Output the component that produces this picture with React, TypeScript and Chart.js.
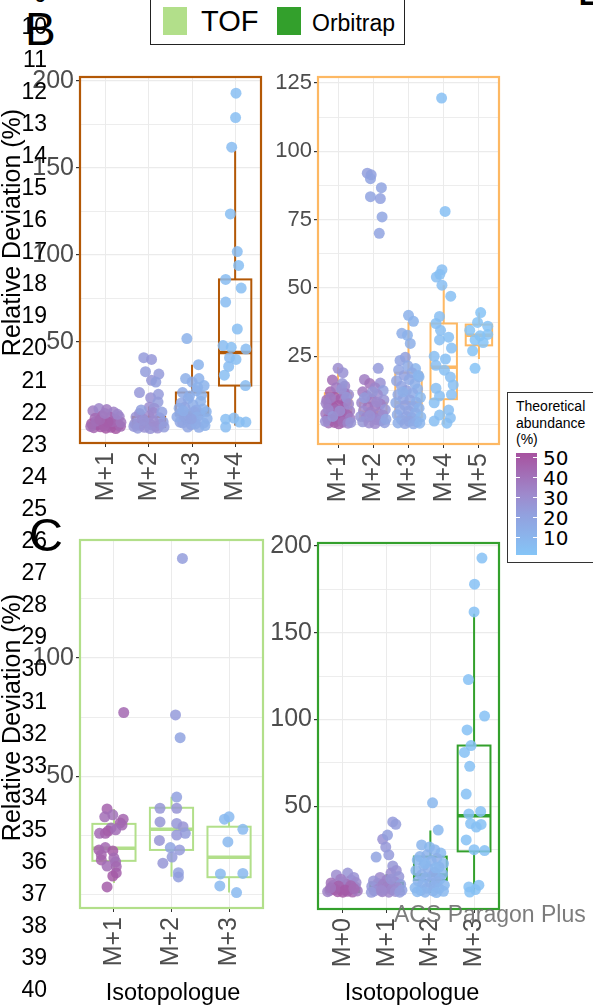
import React, { useEffect, useRef } from "react";
import { Chart, registerables } from "chart.js";

Chart.register(...registerables);

type Pt = [number, number, number]; // [jitter offset, relative deviation %, theoretical abundance %]
type Box = [number, number, number, number, number]; // [lower whisker, q1, median, q3, upper whisker]

// ---------------- Panel B (left, dark orange) ----------------
const catsB1 = ["M+1", "M+2", "M+3", "M+4"];
const boxesB1: Box[] = [
  [0.2, 0.8, 2, 3.4, 7.5],
  [0, 1.2, 3, 7, 13],
  [2, 8, 9.5, 21, 37],
  [2, 25, 44, 86, 160],
];
const ptsB1_M1: Pt[] = [
  [-0.3, 10.5, 36], [-0.16, 11.8, 33], [0.02, 11.2, 37], [0.18, 9.8, 35], [0.31, 7.2, 34],
  [-0.25, 6.2, 43], [-0.08, 7.6, 46], [0.1, 6.8, 45], [0.24, 5.2, 42], [-0.33, 3.1, 48],
  [-0.2, 2.6, 49], [-0.05, 3.6, 50], [0.07, 2.1, 50], [0.17, 3.2, 47], [0.3, 2.3, 46],
  [-0.28, 0.8, 45], [-0.12, 1.3, 49], [0, 0.5, 50], [0.12, 1, 48], [0.23, 0.3, 50],
  [0.34, 1.6, 44], [-0.22, 4.6, 41], [0.15, 4.3, 44], [-0.04, 1.8, 47], [0.05, 4.1, 48],
  [-0.35, 1.5, 42], [0.35, 3.9, 39], [-0.14, 5.5, 44], [0.27, 8.5, 33], [-0.02, 9, 36],
];
const ptsB1_M2: Pt[] = [
  [-0.12, 41, 24], [0.06, 40, 25], [-0.08, 33, 23], [0.23, 31.6, 24], [0.06, 28, 26], [0.16, 27, 22],
  [-0.22, 21, 25], [0.04, 18, 28], [0.21, 15.5, 23], [0.01, 12.6, 30], [0.12, 12, 27], [-0.22, 9, 26],
  [0.1, 9.5, 31], [-0.3, 7, 28], [-0.15, 6, 30], [0, 7.5, 32], [0.25, 6.5, 25], [0.33, 4, 22],
  [-0.33, 3, 27], [-0.2, 2, 29], [-0.08, 3.5, 31], [0.05, 2.5, 30], [0.15, 1.5, 32], [0.28, 2.8, 26],
  [-0.26, 0.5, 24], [-0.1, 1, 28], [0.03, 0.3, 27], [0.2, 0.6, 29], [0.35, 1.2, 23], [-0.35, 1.5, 25],
  [0.1, 4.5, 30], [-0.12, 5, 27], [0.3, 9.8, 21], [-0.18, 11, 22], [0.22, 20, 24],
];
const ptsB1_M3: Pt[] = [
  [-0.12, 52, 12], [0.15, 37, 11], [-0.15, 29, 13], [0.16, 29, 12], [0, 27, 14], [0.28, 25, 11],
  [-0.22, 21, 16], [0.1, 22, 13], [-0.09, 17.5, 15], [0.2, 16, 12], [-0.25, 15, 17], [0.02, 14, 14],
  [-0.17, 12.5, 18], [0.25, 11.6, 12], [0.1, 11, 15], [-0.28, 9, 17], [-0.05, 8.5, 16], [0.18, 9, 13],
  [0.33, 10, 11], [-0.13, 5.5, 18], [0.06, 5, 16], [-0.22, 3.5, 19], [0.27, 3.5, 13], [-0.02, 2.5, 17],
  [0.16, 1, 15], [-0.28, 4, 18], [-0.35, 7, 16], [0.35, 6, 12], [-0.06, 19, 14], [0.22, 19.5, 12],
  [-0.3, 12, 15], [0.05, 10, 17], [-0.18, 7.5, 19], [0.12, 7, 14], [0.3, 2, 12], [-0.1, 1.2, 18],
  [0.08, 3, 15], [-0.2, 10.5, 14], [0.13, 24, 12], [-0.02, 5.8, 20],
];
const ptsB1_M4: Pt[] = [
  [0.02, 193, 5], [0.01, 179, 5], [-0.08, 162, 6], [-0.11, 123.6, 5], [0.05, 102, 6],
  [0.08, 94, 5], [-0.22, 86, 6], [0.14, 81, 5], [-0.22, 73, 6], [0.05, 57.5, 5],
  [-0.28, 48, 6], [-0.09, 47, 5], [0.25, 46, 6], [-0.13, 41, 7], [0.02, 40, 5],
  [-0.15, 36, 6], [-0.25, 31, 5], [0.24, 25, 6], [-0.22, 5.7, 5], [-0.03, 6.3, 6],
  [0.25, 4, 5], [-0.22, 1.2, 6], [0.1, 4, 5],
];
const ptsB1: Pt[][] = [ptsB1_M1, ptsB1_M2, ptsB1_M3, ptsB1_M4];

// ---------------- Panel B (right, light orange) ----------------
const catsB2 = ["M+1", "M+2", "M+3", "M+4", "M+5"];
const boxesB2: Box[] = [
  [0, 1.8, 5.5, 11.5, 21],
  [0, 1.5, 4.5, 8, 14],
  [0, 2.7, 8, 19, 37.5],
  [0, 9.3, 21, 37, 51],
  [24, 29, 32.7, 36.6, 41],
];
const ptsB2_M1: Pt[] = [
  [0, 20.6, 30], [0.14, 19, 28], [-0.16, 16.3, 42], [0.19, 14.1, 33], [-0.22, 12, 45], [0.12, 15, 26],
  [-0.05, 13.5, 38], [0.3, 11, 30], [-0.32, 9, 40], [-0.1, 10, 48], [0.08, 9.5, 46], [0.22, 8.2, 44],
  [-0.26, 7, 41], [-0.14, 6.5, 50], [0.02, 7, 49], [0.16, 6, 47], [0.33, 5, 35], [-0.35, 4, 38],
  [-0.2, 4.8, 46], [-0.06, 3.8, 50], [0.1, 4.2, 48], [0.26, 3.5, 44], [-0.3, 2, 43], [-0.18, 2.6, 49],
  [-0.04, 1.8, 50], [0.06, 2.5, 47], [0.2, 1.6, 45], [0.34, 2.2, 36], [-0.27, 0.6, 40], [-0.1, 0.8, 48],
  [0.02, 0.3, 46], [0.14, 0.9, 42], [0.28, 0.5, 33], [-0.36, 1.2, 29], [0.36, 0.8, 27], [-0.22, 9.8, 36],
  [0.18, 11.5, 39], [-0.08, 5.4, 43], [0.24, 10, 25], [-0.28, 5.5, 31], [0.1, 13, 27], [0.3, 7.5, 32],
  [-0.15, 3, 26], [0.05, 5, 30], [-0.34, 7.8, 34],
];
const ptsB2_M2: Pt[] = [
  [-0.17, 92, 22], [-0.06, 91.4, 21], [-0.08, 90, 20], [0.23, 86.7, 19], [-0.08, 83.4, 20], [0.2, 82.7, 21],
  [0.25, 76, 18], [0.17, 70, 20], [0.14, 20.6, 24], [-0.25, 16.5, 36], [0.2, 15.2, 28], [-0.1, 15, 40],
  [0.05, 13.5, 33], [-0.3, 12, 38], [0.28, 12.5, 22], [-0.18, 10.5, 35], [0.12, 11, 30], [0.3, 9, 27],
  [-0.05, 9.2, 37], [-0.33, 8, 33], [0.2, 7.5, 36], [-0.15, 6.5, 39], [0.05, 6.8, 38], [0.34, 5.5, 25],
  [-0.28, 5, 31], [-0.08, 4.5, 35], [0.15, 4, 34], [0.27, 3.5, 30], [-0.36, 3, 27], [-0.2, 2.6, 33],
  [0, 2.8, 36], [0.1, 1.8, 32], [0.22, 1.5, 29], [-0.3, 1, 26], [-0.12, 0.6, 30], [0.05, 0.4, 31],
  [0.32, 0.7, 22], [-0.25, 9.8, 24], [0.1, 8.2, 31], [-0.02, 12, 26], [0.36, 2, 18], [-0.1, 3.3, 28],
];
const ptsB2_M3: Pt[] = [
  [0, 40, 12], [0.14, 37.8, 11], [-0.19, 33.4, 14], [-0.03, 32.7, 12], [0.05, 29.7, 13], [-0.09, 24.6, 22],
  [-0.24, 23.5, 20], [0.2, 20.5, 10], [-0.28, 20, 18], [0.1, 19, 16], [-0.12, 18, 21], [0.3, 17.5, 9],
  [-0.34, 16, 19], [0.02, 16.5, 17], [0.18, 15, 14], [-0.2, 14, 20], [0.26, 13, 12], [-0.06, 12.5, 22],
  [0.12, 11.5, 15], [-0.3, 11, 17], [0.34, 10, 8], [-0.15, 9.5, 19], [0.04, 9, 18], [0.22, 8.2, 13],
  [-0.36, 8, 16], [-0.1, 7, 21], [0.14, 6.5, 17], [0.3, 6, 11], [-0.24, 5.5, 18], [0, 5, 19],
  [0.2, 4.2, 14], [-0.32, 3.6, 15], [-0.06, 3, 20], [0.1, 2.5, 16], [0.35, 2.8, 9], [-0.2, 1.8, 17],
  [0.02, 1.2, 19], [0.24, 1, 12], [-0.3, 0.6, 14], [-0.1, 0.4, 18], [0.14, 0.3, 15], [0.32, 0.5, 10],
  [-0.16, 12, 13], [0.28, 18, 10], [-0.02, 21.5, 16],
];
const ptsB2_M4: Pt[] = [
  [-0.06, 119.5, 4], [0.04, 78, 4], [-0.05, 56.7, 5], [-0.21, 54, 5], [-0.11, 55, 4], [-0.05, 51, 5],
  [0.2, 47, 4], [-0.12, 39.6, 5], [-0.22, 37, 4], [-0.09, 34.5, 5], [0.14, 32, 4], [-0.12, 31, 5],
  [0.22, 28, 4], [-0.27, 25, 5], [0.05, 24, 4], [-0.22, 21.7, 5], [0.02, 19.9, 4], [0.19, 17.4, 5],
  [0.27, 14.5, 4], [-0.22, 13.3, 5], [0.22, 11, 4], [-0.12, 10.5, 5], [-0.27, 8, 4], [0.14, 5.3, 5],
  [-0.12, 3.5, 4], [-0.27, 1.3, 5], [0.09, 0.5, 4], [0.19, 2.5, 5],
];
const ptsB2_M5: Pt[] = [
  [0.05, 41, 2], [-0.04, 37.4, 2], [0.25, 36, 2], [-0.26, 34.5, 2], [0.25, 33, 2],
  [-0.11, 31, 2], [0.12, 30, 2], [-0.18, 27, 2], [-0.11, 20.6, 2], [0.03, 32.5, 2],
];
const ptsB2: Pt[][] = [ptsB2_M1, ptsB2_M2, ptsB2_M3, ptsB2_M4, ptsB2_M5];

// ---------------- Panel C (left, TOF light green) ----------------
const catsC1 = ["M+1", "M+2", "M+3"];
const boxesC1: Box[] = [
  [5, 14.4, 19.7, 30, 36.3],
  [7.7, 19, 27.7, 36.8, 41.5],
  [1, 7.5, 15.9, 28.8, 31],
];
const ptsC1_M1: Pt[] = [
  [0.17, 77, 44], [-0.12, 36.3, 46], [-0.02, 33.8, 40], [-0.16, 33, 42], [0.16, 32, 45], [0.11, 30.4, 47],
  [0.14, 29.5, 44], [-0.05, 28.3, 41], [-0.25, 26, 43], [-0.15, 26, 46], [-0.1, 27, 48], [0.03, 27.5, 42],
  [-0.26, 19, 47], [-0.15, 20, 44], [-0.02, 18.6, 49], [-0.22, 16.9, 45], [0, 15.6, 43], [0.03, 14, 41],
  [-0.22, 14.8, 46], [-0.12, 12.2, 42], [0.04, 12, 44], [0.04, 9.3, 47], [-0.02, 8, 49], [-0.12, 3.4, 48],
];
const ptsC1_M2: Pt[] = [
  [0.19, 142, 23], [0.07, 76, 24], [0.15, 66.4, 20], [0.09, 41.3, 21], [-0.2, 36.6, 26], [0.09, 36.6, 27],
  [-0.2, 30.8, 26], [0.09, 30.2, 25], [0.2, 28.8, 27], [0.24, 26, 23], [0.09, 25.3, 25], [-0.21, 23, 27],
  [-0.02, 20, 19], [0.14, 19, 24], [0.01, 16, 24], [-0.15, 13.4, 26], [0.12, 9.4, 21], [0.12, 7.6, 22],
];
const ptsC1_M3: Pt[] = [
  [-0.08, 32, 7], [0, 33, 7], [0.24, 27.7, 7], [-0.02, 22.4, 8], [-0.15, 8.9, 7],
  [0.24, 9.1, 8], [-0.16, 3.8, 7], [0.13, 1, 7],
];
const ptsC1: Pt[][] = [ptsC1_M1, ptsC1_M2, ptsC1_M3];

// ---------------- Panel C (right, Orbitrap dark green) ----------------
const catsC2 = ["M+0", "M+1", "M+2", "M+3"];
const boxesC2: Box[] = [
  [0, 0.6, 1.5, 3, 6.5],
  [0, 1, 3, 6, 11],
  [0, 7.5, 10.4, 21, 36],
  [0.5, 24, 44.5, 85, 161],
];
const ptsC2_M0: Pt[] = [
  [-0.15, 10.4, 30], [0.11, 11.5, 27], [-0.27, 5.8, 40], [0.19, 7.5, 33], [-0.05, 8, 36], [0.25, 9, 28],
  [-0.2, 3, 45], [-0.08, 2.5, 48], [0.04, 3.2, 50], [0.15, 2, 47], [0.28, 3.5, 42], [-0.3, 1.5, 44],
  [-0.12, 0.8, 49], [0, 0.5, 50], [0.1, 1, 48], [0.22, 0.6, 46], [0.33, 1.2, 38], [-0.35, 0.8, 35],
  [-0.22, 4.5, 38], [0.08, 5, 41], [-0.02, 6.5, 34], [0.3, 6, 30], [-0.1, 4, 46], [0.18, 4.2, 44],
  [0.05, 1.8, 49], [-0.18, 2, 47], [0.25, 2.6, 43], [-0.28, 3, 39],
];
const ptsC2_M1: Pt[] = [
  [0.14, 41, 24], [0.21, 39.6, 23], [-0.09, 31, 28], [0.02, 33.4, 22], [-0.02, 26.5, 25], [-0.24, 20.7, 20],
  [0.05, 22, 24], [0.14, 15.6, 26], [0.1, 11.5, 30], [0.22, 13, 28], [-0.15, 9, 32], [0.28, 9.5, 26],
  [-0.3, 7, 27], [0, 7.5, 33], [0.18, 6.5, 31], [-0.2, 5.5, 29], [0.32, 5, 22], [-0.08, 5, 34],
  [0.08, 4, 35], [-0.34, 3.8, 25], [0.25, 3, 30], [-0.18, 2.5, 33], [-0.02, 2.8, 35], [0.12, 2, 32],
  [0.35, 1.6, 21], [-0.28, 1.2, 28], [-0.1, 0.8, 34], [0.05, 0.5, 33], [0.2, 0.9, 29], [-0.35, 0.4, 24],
  [0.3, 0.5, 23], [0.1, 8, 27], [-0.12, 1.5, 31],
];
const ptsC2_M2: Pt[] = [
  [0.05, 52, 9], [0.18, 36.3, 8], [-0.2, 27.7, 10], [-0.02, 26.5, 9], [0.24, 23, 7], [-0.24, 21, 11],
  [0.1, 25, 10], [-0.08, 22, 12], [0.15, 20, 13], [-0.3, 19, 9], [0.02, 18.5, 11], [0.3, 17, 8],
  [-0.15, 16, 12], [0.2, 15, 10], [-0.05, 14, 13], [-0.33, 13, 10], [0.1, 12, 14], [0.28, 11, 9],
  [-0.2, 10.5, 13], [0.05, 10, 15], [-0.1, 9, 12], [0.22, 8, 11], [-0.28, 7, 12], [0.15, 6.5, 13],
  [0, 6, 14], [-0.18, 5, 11], [0.32, 4.5, 8], [0.08, 4, 12], [-0.35, 3, 9], [-0.08, 2.8, 13],
  [0.2, 2.5, 10], [-0.22, 1.5, 11], [0.06, 1.2, 12], [0.3, 1, 8], [-0.12, 0.5, 10], [0.14, 0.3, 9],
  [-0.3, 0.8, 7], [0.12, 14.5, 9], [-0.12, 17, 8],
];
const ptsC2_M3: Pt[] = [
  [0.18, 193, 3], [0.01, 178, 3], [0, 162, 3], [-0.13, 123, 3], [0.24, 102, 3], [-0.16, 94, 3],
  [-0.07, 85, 3], [-0.22, 81, 3], [-0.1, 73, 3], [-0.18, 57, 3], [-0.12, 45.6, 3], [0.15, 47, 3],
  [-0.08, 40, 3], [0.05, 38, 3], [0.16, 39.5, 3], [-0.18, 30.6, 3], [0, 25, 3], [0.24, 24.5, 3],
  [-0.12, 3.5, 3], [0.11, 4.5, 3], [-0.1, 0.6, 3], [0.03, 2, 3],
];
const ptsC2: Pt[][] = [ptsC2_M0, ptsC2_M1, ptsC2_M2, ptsC2_M3];

// ---------------- Legends & page texts ----------------
const instrumentLabels = ["TOF", "Orbitrap"];
const instrumentColors = ["#b2df8a", "#33a02c"];
const colorbarTicks = [50, 40, 30, 20, 10];
const lineNumbers = Array.from({ length: 32 }, (_, i) => i + 9);

// colour scale for theoretical abundance
const abMin = 1;
const abMax = 52.5;
const colorStops: [number, [number, number, number]][] = [
  [0, [133, 197, 247]],
  [0.4, [146, 160, 222]],
  [0.6, [158, 137, 204]],
  [1, [167, 82, 159]],
];
function abColor(a: number, alpha = 1): string {
  const t = Math.max(0, Math.min(1, (a - abMin) / (abMax - abMin)));
  for (let i = 1; i < colorStops.length; i++) {
    const [t1, c1] = colorStops[i];
    const [t0, c0] = colorStops[i - 1];
    if (t <= t1) {
      const f = (t - t0) / (t1 - t0);
      const c = c0.map((v, k) => Math.round(v + (c1[k] - v) * f));
      return `rgba(${c[0]},${c[1]},${c[2]},${alpha})`;
    }
  }
  const c = colorStops[colorStops.length - 1][1];
  return `rgba(${c[0]},${c[1]},${c[2]},${alpha})`;
}

const FONT = "'Liberation Sans', Arial, sans-serif";
Chart.defaults.font.family = FONT;

interface PanelSpec {
  cats: string[];
  points: Pt[][];
  boxes: Box[];
  color: string;
  yMin: number;
  yMax: number;
  yMajor: number[];
  yMinor: number[];
  xMin: number;
  xMax: number;
  left: number;
  top: number;
  w: number;
  h: number;
  padTop: number;
  padRight: number;
  yAxisW: number;
  xAxisH: number;
  yFont: number;
}

const panels: PanelSpec[] = [
  {
    cats: catsB1, points: ptsB1, boxes: boxesB1, color: "#b35806",
    yMin: -8, yMax: 202.3, yMajor: [50, 100, 150, 200], yMinor: [0, 25, 75, 125, 175],
    xMin: 0.4, xMax: 4.6, left: 0, top: 60, w: 285, h: 460, padTop: 17, padRight: 24, yAxisW: 80, xAxisH: 77, yFont: 25,
  },
  {
    cats: catsB2, points: ptsB2, boxes: boxesB2, color: "#fdb863",
    yMin: -7.1, yMax: 127.2, yMajor: [25, 50, 75, 100, 125], yMinor: [0, 12.5, 37.5, 62.5, 87.5, 112.5],
    xMin: 0.43, xMax: 5.57, left: 268, top: 60, w: 255, h: 460, padTop: 17, padRight: 24, yAxisW: 50, xAxisH: 76, yFont: 22,
  },
  {
    cats: catsC1, points: ptsC1, boxes: boxesC1, color: "#b2df8a",
    yMin: -5.5, yMax: 149.8, yMajor: [50, 100], yMinor: [0, 25, 75, 125],
    xMin: 0.41, xMax: 3.59, left: 0, top: 520, w: 287, h: 470, padTop: 20, padRight: 24, yAxisW: 80, xAxisH: 82, yFont: 25,
  },
  {
    cats: catsC2, points: ptsC2, boxes: boxesC2, color: "#33a02c",
    yMin: -9.2, yMax: 201.7, yMajor: [50, 100, 150, 200], yMinor: [0, 25, 75, 125, 175],
    xMin: 0.43, xMax: 4.57, left: 268, top: 520, w: 255, h: 470, padTop: 23, padRight: 24, yAxisW: 50, xAxisH: 81, yFont: 25,
  },
];

function makeBoxPlugin(boxes: Box[], color: string) {
  return {
    id: "boxplots",
    beforeDatasetsDraw(chart: any) {
      const { ctx } = chart;
      const x = chart.scales.x;
      const y = chart.scales.y;
      ctx.save();
      ctx.strokeStyle = color;
      boxes.forEach((b, i) => {
        const c = i + 1;
        const xl = x.getPixelForValue(c - 0.375);
        const xr = x.getPixelForValue(c + 0.375);
        const xc = x.getPixelForValue(c);
        const [lo, q1, med, q3, hi] = b.map((v) => y.getPixelForValue(v));
        ctx.lineWidth = 2;
        ctx.beginPath();
        ctx.moveTo(xc, q3);
        ctx.lineTo(xc, hi);
        ctx.moveTo(xc, q1);
        ctx.lineTo(xc, lo);
        ctx.stroke();
        ctx.strokeRect(xl, q3, xr - xl, q1 - q3);
        ctx.lineWidth = 3.5;
        ctx.beginPath();
        ctx.moveTo(xl, med);
        ctx.lineTo(xr, med);
        ctx.stroke();
      });
      ctx.restore();
    },
    afterDraw(chart: any) {
      const { ctx, chartArea: a } = chart;
      ctx.save();
      ctx.strokeStyle = color;
      ctx.lineWidth = 2.2;
      ctx.strokeRect(a.left, a.top, a.right - a.left, a.bottom - a.top);
      ctx.restore();
    },
  };
}

function buildConfig(p: PanelSpec): any {
  const data = p.points.flatMap((arr, i) => arr.map(([dx, v, ab]) => ({ x: i + 1 + dx, y: v, ab })));
  const yTicks = [...p.yMajor, ...p.yMinor].sort((a, b) => a - b);
  const isMajor = (v: number) => p.yMajor.includes(v);
  return {
    type: "scatter",
    data: {
      datasets: [
        {
          data,
          pointRadius: 5.5,
          pointHoverRadius: 5.5,
          pointBorderWidth: 0,
          pointBackgroundColor: data.map((d) => abColor(d.ab, 0.85)),
        },
      ],
    },
    options: {
      animation: false,
      responsive: false,
      maintainAspectRatio: false,
      events: [],
      layout: { padding: { top: p.padTop, right: p.padRight, left: 0, bottom: 0 } },
      plugins: { legend: { display: false }, tooltip: { enabled: false } },
      scales: {
        x: {
          type: "linear",
          min: p.xMin,
          max: p.xMax,
          afterBuildTicks: (s: any) => {
            s.ticks = p.cats.map((_, i) => ({ value: i + 1 }));
          },
          afterFit: (s: any) => {
            s.height = p.xAxisH;
          },
          ticks: {
            autoSkip: false,
            minRotation: 90,
            maxRotation: 90,
            padding: 5,
            color: "#4d4d4d",
            font: { size: 25, family: FONT },
            callback: (_v: any, i: number) => p.cats[i],
          },
          grid: { color: "#ebebeb", lineWidth: 1, tickLength: 4, tickColor: "#333333" },
          border: { display: false },
        },
        y: {
          type: "linear",
          min: p.yMin,
          max: p.yMax,
          afterBuildTicks: (s: any) => {
            s.ticks = yTicks.map((v) => ({ value: v }));
          },
          afterFit: (s: any) => {
            s.width = p.yAxisW;
          },
          ticks: {
            autoSkip: false,
            padding: 2,
            color: "#4d4d4d",
            font: { size: p.yFont, family: FONT },
            callback: (v: any) => (isMajor(v) ? String(v) : ""),
          },
          grid: {
            color: "#ebebeb",
            lineWidth: (ctx: any) => (ctx.tick && isMajor(ctx.tick.value) ? 1.2 : 0.9),
            tickLength: 4,
            tickColor: (ctx: any) => (ctx.tick && isMajor(ctx.tick.value) ? "#333333" : "rgba(0,0,0,0)"),
          },
          border: { display: false },
        },
      },
    },
    plugins: [makeBoxPlugin(p.boxes, p.color)],
  };
}

function PanelChart({ p }: { p: PanelSpec }) {
  const ref = useRef<HTMLCanvasElement>(null);
  useEffect(() => {
    const chart = new Chart(ref.current as HTMLCanvasElement, buildConfig(p));
    return () => chart.destroy();
  }, [p]);
  return (
    <canvas
      ref={ref}
      width={p.w}
      height={p.h}
      style={{ position: "absolute", left: p.left, top: p.top, width: p.w, height: p.h }}
    />
  );
}

function Txt(props: {
  x: number; cy: number; size: number; text: string; color?: string; align?: "left" | "right" | "center"; w?: number; family?: string;
}) {
  const { x, cy, size, text, color = "#000", align = "left", w = 300, family = FONT } = props;
  const left = align === "left" ? x : align === "right" ? x - w : x - w / 2;
  return (
    <div
      style={{
        position: "absolute", left, top: cy - size / 2, width: w, height: size, lineHeight: `${size}px`,
        fontSize: size, fontFamily: family, color, textAlign: align, whiteSpace: "nowrap",
      }}
    >
      {text}
    </div>
  );
}

function VTxt({ cx, cy, size, text }: { cx: number; cy: number; size: number; text: string }) {
  const w = 320;
  return (
    <div
      style={{
        position: "absolute", left: cx - w / 2, top: cy - size / 2, width: w, height: size, lineHeight: `${size}px`,
        fontSize: size, fontFamily: FONT, color: "#000", textAlign: "center", whiteSpace: "nowrap",
        transform: "rotate(-90deg)",
      }}
    >
      {text}
    </div>
  );
}

export default function App() {
  const cbTop = 453;
  const cbBottom = 555;
  const cbY = (v: number) => cbBottom - ((v - abMin) / (abMax - abMin)) * (cbBottom - cbTop);
  const grad = `linear-gradient(to top, ${colorStops.map(([t]) => `${abColor(abMin + t * (abMax - abMin))} ${t * 100}%`).join(", ")})`;
  return (
    <div style={{ position: "absolute", left: 0, top: 0, width: 593, height: 1008, overflow: "hidden", background: "#fff" }}>
      {panels.map((p, i) => (
        <PanelChart key={i} p={p} />
      ))}

      {/* instrument legend */}
      <div style={{ position: "absolute", left: 150, top: -4, width: 255, height: 49, border: "1.5px solid #222", boxSizing: "border-box", background: "#fff" }} />
      <div style={{ position: "absolute", left: 163, top: 7, width: 24, height: 28, background: instrumentColors[0] }} />
      <div style={{ position: "absolute", left: 277, top: 7, width: 24, height: 28, background: instrumentColors[1] }} />
      <Txt x={201} cy={21} size={29} text={instrumentLabels[0]} />
      <Txt x={312} cy={23.5} size={23} text={instrumentLabels[1]} />

      {/* colour bar legend */}
      <div style={{ position: "absolute", left: 507, top: 392, width: 100, height: 171, border: "1.5px solid #333", boxSizing: "border-box", background: "#fff" }} />
      <div style={{ position: "absolute", left: 516, top: 398, fontSize: 14, lineHeight: "16.5px", fontFamily: FONT, color: "#000", whiteSpace: "nowrap" }}>
        Theoretical
        <br />
        abundance
        <br />
        (%)
      </div>
      <div style={{ position: "absolute", left: 516, top: cbTop, width: 21, height: cbBottom - cbTop, background: grad }} />
      {colorbarTicks.map((v) => (
        <React.Fragment key={v}>
          <div style={{ position: "absolute", left: 516, top: cbY(v) - 0.5, width: 4, height: 1, background: "#fff" }} />
          <div style={{ position: "absolute", left: 533, top: cbY(v) - 0.5, width: 4, height: 1, background: "#fff" }} />
          <Txt x={543} cy={cbY(v) + 0.5} size={20} text={String(v)} family="'DejaVu Sans', sans-serif" />
        </React.Fragment>
      ))}

      {/* axis titles */}
      <VTxt cx={11} cy={232} size={25} text="Relative Deviation (%)" />
      <VTxt cx={11} cy={717} size={25} text="Relative Deviation (%)" />
      <Txt x={173} cy={993} size={23.5} text="Isotopologue" align="center" />
      <Txt x={412} cy={993} size={23.5} text="Isotopologue" align="center" />

      {/* panel letters */}
      <div style={{ position: "absolute", left: 25, top: 6, fontSize: 46, lineHeight: "46px", fontFamily: FONT, color: "#000" }}>B</div>
      <div style={{ position: "absolute", left: 29, top: 511, fontSize: 47, lineHeight: "47px", fontFamily: FONT, color: "#000" }}>C</div>
      <div style={{ position: "absolute", left: 577, top: -34, fontSize: 46, lineHeight: "46px", fontFamily: FONT, color: "#000" }}>D</div>

      {/* manuscript line numbers */}
      {lineNumbers.map((n) => (
        <Txt key={n} x={47} cy={59 + (n - 11) * 32.1} size={23} text={String(n)} align="right" w={60} />
      ))}

      {/* watermark */}
      <Txt x={394} cy={914} size={23} text="ACS Paragon Plus" color="rgba(110,110,110,0.9)" />
    </div>
  );
}
